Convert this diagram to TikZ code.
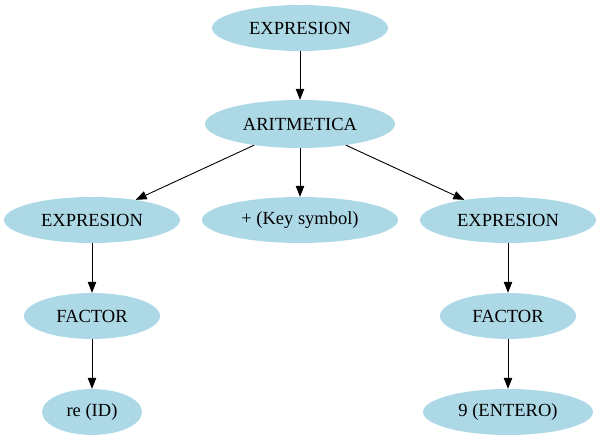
\documentclass[tikz,border=0pt]{standalone}
\usepackage{fontspec}
\setmainfont{Liberation Serif}
\usetikzlibrary{shapes.geometric,arrows.meta}
\definecolor{lb}{HTML}{ADD8E6}
\begin{document}
\begin{tikzpicture}[x=1pt,y=-1pt,
  nd/.style={ellipse,fill=lb,draw=none,inner sep=0pt,minimum height=46pt,font=\fontsize{18.5}{21}\selectfont},
  arr/.style={-{Triangle[length=11pt,width=8.5pt]},line width=0.9pt}]
\useasboundingbox (0,0) rectangle (600,443);
\node[nd,minimum width=176pt] (e0) at (300,28) {EXPRESION};
\node[nd,minimum width=190pt,minimum height=48pt] (ar) at (300,124) {ARITMETICA};
\node[nd,minimum width=176pt] (e1) at (92,220) {EXPRESION};
\node[nd,minimum width=196pt] (ks) at (300,220) {+ (Key symbol)};
\node[nd,minimum width=176pt] (e2) at (508,220) {EXPRESION};
\node[nd,minimum width=136pt] (f1) at (92,316) {FACTOR};
\node[nd,minimum width=136pt] (f2) at (508,316) {FACTOR};
\node[nd,minimum width=100pt] (id) at (92,412) {re (ID)};
\node[nd,minimum width=170pt] (en) at (508,412) {9 (ENTERO)};
\draw[arr] (e0) -- (ar);
\draw[arr] (ar) -- (e1);
\draw[arr] (ar) -- (ks);
\draw[arr] (ar) -- (e2);
\draw[arr] (e1) -- (f1);
\draw[arr] (f1) -- (id);
\draw[arr] (e2) -- (f2);
\draw[arr] (f2) -- (en);
\end{tikzpicture}
\end{document}
